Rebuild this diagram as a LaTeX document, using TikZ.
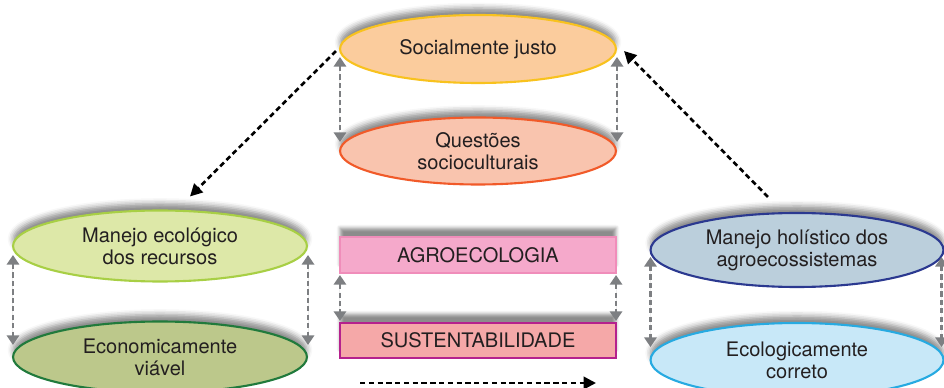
\documentclass[tikz,border=0pt]{standalone}
\usepackage{fontspec}
\setmainfont{TeX Gyre Heros}
\usetikzlibrary{arrows.meta,shapes.geometric,shadows.blur,calc}

\definecolor{txt}{HTML}{231F20}
\definecolor{arrgray}{HTML}{7D7F82}
\definecolor{socfill}{HTML}{FBCC9D}
\definecolor{socline}{HTML}{F8C21E}
\definecolor{quesfill}{HTML}{F9C4AE}
\definecolor{quesline}{HTML}{F15A29}
\definecolor{ecofill}{HTML}{DDE8A8}
\definecolor{ecoline}{HTML}{A8CF45}
\definecolor{econfill}{HTML}{BCC88B}
\definecolor{econline}{HTML}{217A3C}
\definecolor{holfill}{HTML}{BBCFDC}
\definecolor{holline}{HTML}{2B3990}
\definecolor{ecolfill}{HTML}{C8E8F8}
\definecolor{ecolline}{HTML}{27AAE1}
\definecolor{agrofill}{HTML}{F5A9CB}
\definecolor{agroline}{HTML}{F08DBA}
\definecolor{sustfill}{HTML}{F5A8A8}
\definecolor{sustline}{HTML}{B5218D}

\begin{document}
\begin{tikzpicture}[x=0.02cm,y=-0.02cm,
  every node/.style={font=\fontsize{11.4}{12.6}\selectfont,text=txt,align=center,inner sep=0pt},
  oval/.style={ellipse,line width=1.2pt,
    blur shadow={shadow xshift=0pt,shadow yshift=4pt,shadow blur radius=3pt,shadow opacity=45}},
  bar/.style={rectangle,line width=1.2pt,minimum width=5.52cm,
    blur shadow={shadow xshift=0pt,shadow yshift=5pt,shadow blur radius=2pt,shadow opacity=45}},
  grayarrow/.style={{Triangle[width=7pt,length=5.5pt]}-{Triangle[width=7pt,length=5.5pt]},
    draw=arrgray,fill=arrgray,line width=1.6pt,dash pattern=on 3pt off 1.8pt},
  blackarrow/.style={-{Triangle[width=7pt,length=7pt]},line width=1.5pt,dash pattern=on 3pt off 2pt}]
\useasboundingbox (0,0) rectangle (944,388);

% top pair
\node[oval,draw=socline,fill=socfill,minimum width=5.52cm,minimum height=1.36cm] (soc) at (478,49) {Socialmente justo};
\node[oval,draw=quesline,fill=quesfill,minimum width=5.52cm,minimum height=1.34cm] (ques) at (478,151) {Questões\\socioculturais};

% left pair
\node[oval,draw=ecoline,fill=ecofill,minimum width=5.88cm,minimum height=1.42cm] (eco) at (160,246) {Manejo ecológico\\dos recursos};
\node[oval,draw=econline,fill=econfill,minimum width=5.88cm,minimum height=1.42cm] (econ) at (160,357) {Economicamente\\viável};

% right pair
\node[oval,draw=holline,fill=holfill,minimum width=5.86cm,minimum height=1.48cm] (hol) at (797,250) {Manejo holístico dos\\agroecossistemas};
\node[oval,draw=ecolline,fill=ecolfill,minimum width=5.86cm,minimum height=1.48cm] (ecol) at (797,360) {Ecologicamente\\correto};

% middle bars
\node[bar,draw=agroline,fill=agrofill,minimum height=0.72cm] (agro) at (478,255) {AGROECOLOGIA};
\node[bar,draw=sustline,fill=sustfill,minimum height=0.7cm] (sust) at (478,340.5) {SUSTENTABILIDADE};

% gray links
\draw[grayarrow] ($(soc.west)+(1,8)$) -- ($(ques.west)+(1,-9)$);
\draw[grayarrow] ($(soc.east)+(0,8)$) -- ($(ques.east)+(0,-9)$);
\draw[grayarrow] ($(eco.west)+(1,9)$) -- ($(econ.west)+(1,-12)$);
\draw[grayarrow] ($(eco.east)+(0,9)$) -- ($(econ.east)+(0,-12)$);
\draw[grayarrow] ($(hol.west)+(1,7)$) -- ($(ecol.west)+(1,-13)$);
\draw[grayarrow] ($(hol.east)+(-3,7)$) -- ($(ecol.east)+(-3,-13)$);
\draw[grayarrow] ($(agro.south west)+(1,1)$) -- ($(sust.north west)+(1,-1)$);
\draw[grayarrow] ($(agro.south east)+(-1,1)$) -- ($(sust.north east)+(-1,-1)$);

% black links
\draw[blackarrow] ($(soc.west)+(-3,2)$) -- ($(eco.north)+(30,-13)$);
\draw[blackarrow] ($(hol.north)+(-29,-15)$) -- ($(soc.east)+(7,2)$);
\coordinate (b1) at (360,383);
\coordinate (b2) at (596,383);
\draw[blackarrow] (b1) -- (b2);
\end{tikzpicture}
\end{document}
